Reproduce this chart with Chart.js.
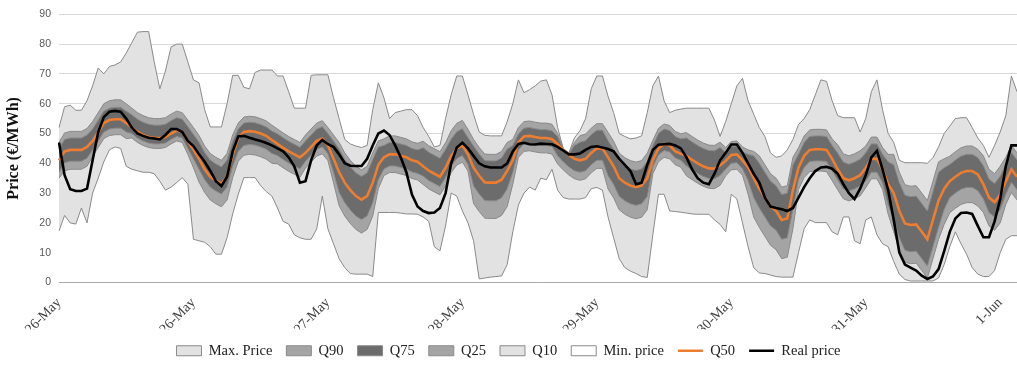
<!DOCTYPE html>
<html>
<head>
<meta charset="utf-8">
<script src="https://cdn.jsdelivr.net/npm/chart.js@4.4.1/dist/chart.umd.min.js"></script>
<style>
  html, body { margin: 0; padding: 0; background: #fff; }
  #wrap { width: 1017px; height: 365px; }
</style>
</head>
<body>
<div id="wrap"><canvas id="priceChart"></canvas></div>
<script>
// one tick label per day, every 24 hourly points
const dayLabels = ['26-May', '26-May', '27-May', '28-May', '29-May', '30-May', '31-May', '1-Jun'];

// hourly values (€/MWh), one row per day
const maxPrice = [
  52, 59, 59.5, 57.8, 57.8, 61, 66, 72, 70, 72.5, 73, 74, 77, 80.5, 84, 84.2, 84.2, 74, 65, 71, 79, 80, 80, 74,
  68, 67, 58, 52.2, 52.2, 52.2, 60, 69.5, 69.5, 65.5, 65, 70.5, 71.3, 71.3, 71.3, 69.3, 69.3, 64, 58.5, 58.5, 58.5, 69.5, 69.7, 69.7,
  69.7, 62, 55, 48, 46.5, 45.8, 45.3, 46, 58, 67, 62, 55, 57, 57.5, 58, 58, 56, 52, 49, 45.5, 46, 55, 63, 69.3,
  69.3, 63, 56.4, 50.5, 49.4, 49.2, 49.2, 49.2, 54, 60, 68, 63.7, 64.7, 66, 67.6, 68, 63, 52, 45, 43.5, 48.5, 51, 55, 65,
  69.3, 69.3, 62.5, 57, 50, 49, 48.2, 48.5, 49.2, 57, 66, 69.3, 61, 57, 57.8, 58.2, 58.5, 58.5, 58.5, 58.5, 58.5, 54.5, 49, 54,
  60, 66, 68.5, 61, 56.5, 52, 49, 43.5, 42, 42.5, 44.5, 48, 53, 55, 58, 63, 68, 67.5, 61, 56, 55.3, 55.3, 55.3, 50.5,
  55, 64, 68, 58, 50, 47, 41, 40.2, 40.2, 40.2, 40.2, 40, 41.9, 45.5, 50, 52.5, 55, 55.3, 55.3, 52, 48.5, 46, 42, 46,
  50.5, 56, 69.3, 64
];
const q90 = [
  47, 50.2, 50.7, 50.7, 50.7, 51.7, 54, 57, 60, 61, 61.3, 61.3, 60, 58.5, 57, 56, 55.3, 55, 55, 55.3, 56.5, 57.5, 57, 54.5,
  52, 49.3, 45.8, 43.3, 42, 41, 43.3, 49.5, 53.5, 55.5, 55.8, 55.6, 55, 54.2, 52.8, 51.5, 50.2, 49, 48, 47, 49.5, 51.5, 53.5, 54.3,
  52, 49.5, 47, 43.5, 41, 39, 37.8, 39, 43.5, 47.5, 48.2, 49.2, 49.2, 48.7, 48.2, 47.2, 46.7, 47.4, 45.9, 44.9, 43.9, 46.9, 50.9, 53.4,
  54.4, 51.4, 48, 45.3, 43.1, 43, 43, 44, 47, 48, 52, 54, 54.2, 53.8, 53.5, 53.5, 53.1, 50, 45, 43.3, 47, 49.3, 49.8, 51.8,
  53.3, 53.3, 50.4, 47.4, 43.4, 41.9, 40.9, 40.4, 40.9, 43.4, 47.7, 51.7, 53.2, 52.7, 50.7, 49.9, 50.3, 49, 47.8, 46.8, 46.1, 46, 47.1, 45.3,
  47.3, 47.5, 45.5, 44.5, 44, 42.5, 39.5, 36.5, 35, 32, 32.5, 42, 45.2, 49.2, 51.2, 51.4, 51.4, 51.2, 48.2, 46.2, 43.2, 42.5, 43.2, 44.2,
  45.8, 48.8, 48.8, 45.3, 43, 43, 37, 32.8, 32.3, 32.5, 30, 27.5, 34, 40.5, 41.5, 42.4, 43.9, 45.2, 45.8, 45.8, 44.7, 42.5, 38, 36.5,
  39, 42, 46, 43.5
];
const q75 = [
  45, 48, 48.5, 48.5, 48.5, 49.5, 51.5, 54.5, 57.5, 58.5, 58.8, 58.8, 57.5, 56.3, 54.8, 53.8, 53.1, 52.8, 52.8, 53.1, 54.3, 55.3, 54.8, 52.3,
  49.7, 47.1, 43.6, 41.1, 39.8, 38.8, 41.1, 47.3, 51.5, 53.5, 53.8, 53.6, 53, 52.2, 50.8, 49.9, 48.6, 47.4, 46.4, 45.4, 47.5, 49.5, 51.5, 52.3,
  50, 47.5, 44.8, 41.3, 38.8, 36.8, 35.6, 36.8, 41.3, 45.5, 46, 47, 47, 46.5, 46, 45, 44.5, 45.2, 43.7, 42.7, 41.7, 44.7, 48.1, 50.6,
  51.6, 48.6, 45.8, 43.1, 40.9, 40.8, 40.8, 41.8, 44.8, 46, 49.8, 51.8, 52, 51.6, 51.3, 51.3, 50.9, 49, 44.8, 43.1, 46, 47.1, 47.6, 49.6,
  51.1, 51.1, 47.6, 44.6, 40.6, 39.1, 38.1, 37.6, 38.1, 40.6, 46, 50, 51.5, 51, 49, 48.2, 48.5, 47.2, 46, 45, 44.3, 44.2, 45.3, 43.6,
  45.6, 45.8, 43.8, 43, 42.5, 40, 37, 34, 32.5, 29.5, 30, 39.5, 43, 47, 49, 49.2, 49.2, 49, 46, 43.4, 40.4, 39.7, 40.4, 41.4,
  43.5, 46.5, 46.5, 43, 40.5, 39.5, 33.5, 29.3, 28.8, 29, 26.5, 24, 30.5, 37, 38.5, 39.6, 41.1, 42.4, 43, 43, 41.9, 39.2, 34.7, 33.2,
  35.7, 39.6, 43.6, 41.1
];
const q25 = [
  37, 40.2, 40.7, 40.7, 40.7, 41.7, 44.5, 47.5, 50.5, 51.5, 51.8, 51.8, 50.5, 50, 48.5, 47.5, 46.8, 46.5, 46.5, 46.8, 48, 49, 48.5, 45,
  41.5, 38, 34.5, 32, 30.7, 29.7, 32, 39, 44, 46, 46.3, 46.1, 45.5, 44.7, 43.3, 42.6, 41.3, 40.1, 39.1, 38.1, 40.7, 42.7, 44.7, 45.5,
  43.2, 37, 30.3, 26.8, 24.3, 22.3, 21.1, 22.3, 26.8, 34.5, 38.1, 39.1, 39.1, 38.6, 38.1, 37.1, 36.6, 35.7, 34.2, 33.2, 32.2, 35.2, 39.1, 41.6,
  42.6, 39.6, 32.4, 29.7, 27.5, 27.4, 27.4, 28.4, 31.4, 37, 44.5, 46.5, 46.7, 46.3, 46, 46, 45.6, 42.5, 40.5, 38.8, 37.5, 37, 37.5, 39.5,
  41, 41, 35.9, 32.9, 28.9, 27.4, 26.4, 25.9, 26.4, 28.9, 38.8, 42.8, 44.3, 43.8, 41.8, 41, 39.1, 37.8, 36.6, 35.6, 34.9, 34.8, 35.9, 38,
  40, 40.2, 38.2, 34.2, 28.5, 25, 22, 19, 17.5, 14.5, 15, 24.5, 34.6, 38.6, 40.6, 40.8, 40.8, 40.6, 37.6, 34.4, 31.4, 30.7, 31.4, 32.4,
  34, 37, 37, 33.5, 26, 21, 15, 10.8, 10.3, 10.5, 8, 5.5, 12, 18.5, 24.5, 28.5, 30, 31.3, 31.9, 31.9, 30.8, 28, 23.5, 22,
  24.5, 29.6, 33.6, 31.1
];
const q10 = [
  35, 37.5, 38, 38, 38, 39, 42.3, 45.3, 48.3, 49.3, 49.6, 49.6, 48.3, 48.5, 47, 46, 45.3, 45, 45, 45.3, 46.5, 47.5, 47, 43,
  38.5, 33.7, 30.2, 27.7, 26.4, 25.4, 27.7, 35.2, 40.7, 42.7, 43, 42.8, 42.2, 41.4, 40, 39.8, 38.5, 37.3, 36.3, 35.3, 38.4, 40.4, 42.4, 43.2,
  40.9, 33.5, 25.8, 22.3, 19.8, 17.8, 16.6, 17.8, 22.3, 31.5, 35.9, 36.9, 36.9, 36.4, 35.9, 34.9, 34.4, 32.9, 31.4, 30.4, 29.4, 32.4, 36.9, 39.4,
  40.4, 37.4, 26.5, 23.8, 21.6, 21.5, 21.5, 22.5, 25.5, 33, 42, 44, 44.2, 43.8, 43.5, 43.5, 43.1, 39.8, 37.8, 36.1, 34.8, 34.3, 34.8, 36.8,
  38.3, 38.3, 31.4, 28.4, 24.4, 22.9, 21.9, 21.4, 21.9, 24.4, 36.5, 40.5, 42, 41.5, 39.5, 38.7, 35.8, 34.5, 33.3, 32.3, 31.6, 31.5, 32.6, 35.8,
  37.8, 38, 36, 29.7, 22, 18.5, 15.5, 12.5, 11, 8, 8.5, 18, 31.2, 35.2, 37.2, 37.4, 37.4, 37.2, 34.2, 31.1, 28.1, 27.4, 28.1, 29.1,
  31.8, 34.8, 34.8, 31.3, 23, 17, 11, 6.8, 6.3, 6.5, 4, 1.5, 8, 14.5, 19.5, 23.4, 24.9, 26.2, 26.8, 26.8, 25.7, 23.5, 19, 17.5,
  20, 26.2, 30.2, 27.7
];
const minPrice = [
  17.3, 22.5, 20, 19.6, 25, 20, 30, 35, 40.5, 44.5, 45.5, 45, 39, 38, 37.5, 37, 37, 36.5, 34, 31, 32, 33.5, 35.2, 33,
  14.5, 14, 13.5, 12, 9.5, 9.5, 15, 23, 29.6, 35.2, 35.2, 35.2, 32.5, 30.5, 29, 25, 20.5, 19.6, 16, 15, 14.5, 14.5, 18, 29,
  18, 13, 8, 5, 3, 2.8, 2.8, 2.8, 2, 23.5, 23.5, 23.5, 23.5, 23.3, 23, 23, 22.9, 22, 20.5, 12, 10.6, 19, 30, 29,
  24, 20, 14, 1.2, 1.5, 1.8, 2, 2.2, 6, 17, 26, 30, 32, 31, 35, 34.5, 38, 31, 28.5, 28, 28, 28, 28.5, 31.5,
  31.9, 31, 22, 15, 8, 5, 3.8, 3, 2, 1.7, 16, 29.6, 29.6, 24, 23.8, 23.6, 23.3, 23, 22.9, 22.9, 22.9, 21, 19.5, 17,
  29.6, 28, 20, 12, 5, 3.2, 3, 2.5, 2, 1.8, 1.8, 1.8, 10, 18, 21, 20.1, 20.1, 20.1, 17, 16, 22, 22, 14, 13,
  21, 22, 16, 13, 12, 7, 2.8, 1, 0.5, 0.5, 0.5, 0.5, 0.5, 1.5, 6, 12, 17, 13, 9.5, 5, 2.8, 2, 2, 4,
  10, 14.5, 15.7, 15.7
];
const q50 = [
  41, 44, 44.5, 44.5, 44.5, 45.5, 47.5, 50.5, 53.5, 54.5, 54.8, 54.8, 53.5, 52, 50.5, 49.5, 48.8, 48.5, 48.5, 48.8, 50, 51, 50.5, 47.5,
  44.5, 41.5, 38, 35.5, 34.2, 33.2, 35.5, 43, 48.5, 50.5, 50.8, 50.6, 50, 49.2, 47.8, 46.5, 45.2, 44, 43, 42, 43.5, 45.5, 47.5, 48.3,
  46, 41.5, 37, 33.5, 31, 29, 27.8, 29, 33.5, 39.5, 42, 43, 43, 42.5, 42, 41, 40.5, 39, 37.5, 36.5, 35.5, 38.5, 42.5, 45,
  46, 43, 38.5, 35.8, 33.6, 33.5, 33.5, 34.5, 37.5, 41, 47, 49, 49.2, 48.8, 48.5, 48.5, 48.1, 46.5, 44.5, 42.8, 41.5, 41, 41.5, 43.5,
  45, 45, 42, 39, 35, 33.5, 32.5, 32, 32.5, 35, 41, 45, 46.5, 46, 44, 43.2, 42.5, 41.2, 40, 39, 38.3, 38.2, 39.3, 40.8,
  42.8, 43, 41, 38.7, 35, 31.5, 28.5, 25.5, 24, 21, 21.5, 31, 38.5, 42.5, 44.5, 44.7, 44.7, 44.5, 41.5, 38, 35, 34.3, 35, 36,
  38.5, 41.5, 41.5, 38, 33, 30, 24, 19.8, 19.3, 19.5, 17, 14.5, 21, 27.5, 31.5, 34, 35.5, 36.8, 37.4, 37.4, 36.3, 33, 28.5, 27,
  29.5, 34, 38, 35.5
];
const realPrice = [
  47, 36, 31.3, 30.7, 30.7, 31.5, 41, 50.5, 55.5, 57.3, 57.6, 57.3, 55, 52, 50, 49.2, 48.6, 48.3, 48, 49.5, 51.5, 51.5, 50.5, 47.5,
  45.8, 43, 40.5, 37.5, 34, 32.4, 35.5, 44, 49, 49.2, 48.6, 48, 47.5, 46.8, 46, 45, 44, 42, 39, 33.5, 34, 41, 46, 47.8,
  46.4, 45.5, 43, 40, 39.2, 39.1, 39.1, 41.5, 46, 50, 51, 49.5, 46, 42, 37, 29.5, 25.5, 24, 23.3, 23.5, 25, 30, 40, 45.3,
  46.9, 45, 42.5, 40, 39, 38.6, 38.6, 38.6, 40, 44, 46.5, 46.9, 46.4, 46.3, 46.6, 46.5, 46.4, 45.5, 44.3, 43, 43, 43.3, 44.5, 45.5,
  45.7, 45.3, 44.8, 44, 41.5, 39.5, 37.4, 33, 33.5, 39.5, 44.5, 46.2, 46.4, 46.5, 46, 45, 42, 38, 35, 33.5, 33, 36.5, 41, 43.5,
  46.3, 46.3, 43.5, 40, 36.5, 33.5, 28.5, 25.5, 25, 24.6, 24, 25, 28.5, 32, 35, 37.4, 38.6, 38.8, 38.2, 36.5, 33, 30, 28, 31.5,
  36, 42, 44.2, 38, 31, 21, 10, 6, 5, 4, 2.3, 1.2, 2, 4.5, 10.5, 17, 21.5, 23.3, 23.5, 23, 19, 15.2, 15.2, 20.5,
  28, 39, 46, 46
];

const hours = realPrice.map((_, i) => (i % 24 === 0 ? dayLabels[i / 24] : ''));

const LIGHT = '#e2e2e2';
const MID = '#a4a4a4';
const DARK = '#6c6c6c';

// filled areas down to zero, drawn from Max (bottom) up to Min (white, on top)
function area(label, data, color, order) {
  return {
    label, data, order,
    fill: 'origin',
    backgroundColor: color,
    borderColor: '#8a8a8a',
    borderWidth: 1,
    pointRadius: 0,
    pointStyle: 'rect',
    tension: 0
  };
}

function line(label, data, color, order) {
  return {
    label, data, order,
    fill: false,
    backgroundColor: color,
    borderColor: color,
    borderWidth: 2.6,
    pointRadius: 0,
    pointStyle: 'line',
    tension: 0
  };
}

new Chart(document.getElementById('priceChart'), {
  type: 'line',
  data: {
    labels: hours,
    datasets: [
      area('Max. Price', maxPrice, LIGHT, 7),
      area('Q90', q90, MID, 6),
      area('Q75', q75, DARK, 5),
      area('Q25', q25, MID, 4),
      area('Q10', q10, LIGHT, 3),
      area('Min. price', minPrice, '#ffffff', 2),
      line('Q50', q50, '#ed7d31', 1),
      line('Real price', realPrice, '#000000', 0)
    ]
  },
  options: {
    responsive: true,
    maintainAspectRatio: false,
    animation: false,
    layout: { padding: { top: 8, right: 0, left: 0, bottom: -3 } },
    plugins: {
      legend: {
        position: 'bottom',
        labels: {
          usePointStyle: true,
          pointStyleWidth: 25,
          boxHeight: 10,
          padding: 14,
          color: '#222',
          font: { family: 'Liberation Serif', size: 14.5 },
          sort: (a, b) => a.datasetIndex - b.datasetIndex
        }
      },
      tooltip: { enabled: false }
    },
    scales: {
      x: {
        grid: { display: false },
        border: { color: '#8c8c8c' },
        ticks: {
          autoSkip: false,
          minRotation: 45,
          maxRotation: 45,
          padding: 4,
          color: '#404040',
          font: { family: 'Liberation Serif', size: 14 }
        },
        afterFit: (s) => { s.height = 47; s.paddingRight = 0; }
      },
      y: {
        min: 0,
        max: 90,
        grid: { color: '#d9d9d9', drawTicks: false },
        border: { display: false },
        ticks: {
          stepSize: 10,
          padding: 8,
          color: '#595959',
          font: { family: 'Liberation Sans', size: 10.5 }
        },
        title: {
          display: true,
          text: 'Price (€/MWh)',
          color: '#111',
          font: { family: 'Liberation Serif', size: 16, weight: 'bold' },
          padding: { top: 4, bottom: 4 }
        },
        afterFit: (s) => { s.width = 59; }
      }
    }
  }
});
</script>
</body>
</html>
